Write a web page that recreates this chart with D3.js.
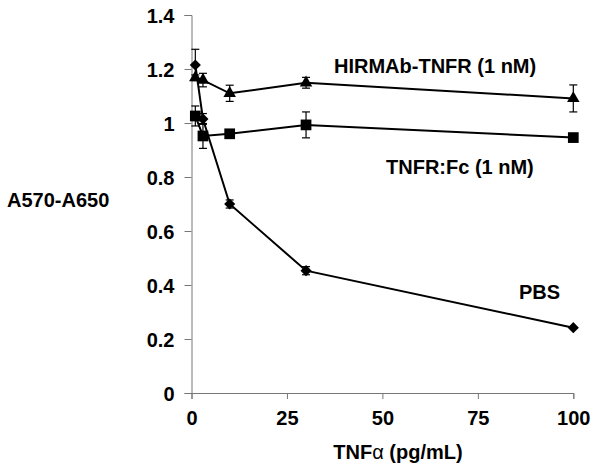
<!DOCTYPE html>
<html>
<head>
<meta charset="utf-8">
<script src="https://cdn.jsdelivr.net/npm/d3@7"></script>
<style>
  body { margin: 0; background: #fff; }
  text { font-family: "Liberation Sans", Arial, sans-serif; font-weight: bold; fill: #000; }
</style>
</head>
<body>
<div class="chart"></div>
<script>
// data
var doses = [1, 3, 10, 30, 100];
var hirmabVals = [1.168, 1.159, 1.11, 1.149, 1.091];
var hirmabErr = [0.01, 0.025, 0.03, 0.02, 0.05];
var tnfrFcVals = [1.026, 0.952, 0.96, 0.993, 0.946];
var tnfrFcErr = [0.037, 0.046, 0.01, 0.048, 0];
var pbsVals = [1.215, 1.015, 0.70, 0.453, 0.242];
var pbsErr = [0.058, 0.02, 0.015, 0.015, 0];
var xTicks = [0, 25, 50, 75, 100];
var yTicks = [0, 0.2, 0.4, 0.6, 0.8, 1, 1.2, 1.4];

var svgWidth = 600;
var svgHeight = 476;
var margin = { top: 15, right: 27, bottom: 83, left: 191.5 };
var width = svgWidth - margin.left - margin.right;
var height = svgHeight - margin.top - margin.bottom;

var svg = d3.select(".chart")
  .append("svg")
  .attr("width", svgWidth)
  .attr("height", svgHeight);

var chart = svg.append("g")
  .attr("transform", "translate(" + margin.left + "," + margin.top + ")");

var x = d3.scaleLinear().domain([0, 100]).range([0, 381.8]);
var y = d3.scaleLinear().domain([0, 1.4]).range([height, 0]);

// axes
var bottomAxis = d3.axisBottom(x).tickValues(xTicks).tickSize(6).tickPadding(12).tickFormat(d3.format("d"));
var leftAxis = d3.axisLeft(y).tickValues(yTicks).tickSize(7).tickPadding(10).tickFormat(function(d) { return d3.format("~g")(d); });

var gx = chart.append("g")
  .attr("transform", "translate(0," + height + ")")
  .call(bottomAxis);
var gy = chart.append("g").call(leftAxis);

[gx, gy].forEach(function(g) {
  g.select(".domain").attr("stroke", "#777").attr("stroke-width", 1);
  g.selectAll(".tick line").attr("stroke", "#777").attr("stroke-width", 1);
  g.selectAll(".tick text")
    .attr("fill", "#000")
    .style("font-size", "20px")
    .style("font-family", "'Liberation Sans', Arial, sans-serif")
    .style("font-weight", "bold");
});
gy.selectAll(".tick text").attr("dy", "0.36em");
gx.selectAll(".tick text").attr("dy", "0.71em");

// diamond = square turned 45 degrees
var series = [
  { vals: hirmabVals, err: hirmabErr, symbol: d3.symbolTriangle, size: 68, rot: 0 },
  { vals: tnfrFcVals, err: tnfrFcErr, symbol: d3.symbolSquare, size: 115, rot: 0 },
  { vals: pbsVals, err: pbsErr, symbol: d3.symbolSquare, size: 62, rot: 45 }
];

var line = d3.line()
  .x(function(d) { return x(d.dose); })
  .y(function(d) { return y(d.val); });

series.forEach(function(s) {
  var pts = doses.map(function(d, i) { return { dose: d, val: s.vals[i], err: s.err[i] }; });

  // error bars
  var eb = chart.append("g").attr("stroke", "#000").attr("stroke-width", 1.2);
  pts.filter(function(p) { return p.err > 0; }).forEach(function(p) {
    var cx = x(p.dose);
    eb.append("line").attr("x1", cx).attr("x2", cx).attr("y1", y(p.val + p.err)).attr("y2", y(p.val - p.err));
    eb.append("line").attr("x1", cx - 4).attr("x2", cx + 4).attr("y1", y(p.val + p.err)).attr("y2", y(p.val + p.err));
    eb.append("line").attr("x1", cx - 4).attr("x2", cx + 4).attr("y1", y(p.val - p.err)).attr("y2", y(p.val - p.err));
  });

  chart.append("path")
    .datum(pts)
    .attr("fill", "none")
    .attr("stroke", "#000")
    .attr("stroke-width", 2)
    .attr("d", line);

  chart.selectAll(null)
    .data(pts)
    .enter()
    .append("path")
    .attr("transform", function(p) { return "translate(" + x(p.dose) + "," + y(p.val) + ") rotate(" + s.rot + ")"; })
    .attr("d", d3.symbol().type(s.symbol).size(s.size))
    .attr("fill", "#000");
});

// series labels
svg.append("text").attr("x", 334).attr("y", 72.5).style("font-size", "20px").text("HIRMAb-TNFR (1 nM)");
svg.append("text").attr("x", 386).attr("y", 174).style("font-size", "20px").text("TNFR:Fc (1 nM)");
svg.append("text").attr("x", 519).attr("y", 299).style("font-size", "20px").text("PBS");

// axis titles
svg.append("text").attr("x", 7).attr("y", 206.5).style("font-size", "20px").text("A570-A650");
var xt = svg.append("text").attr("x", 398).attr("y", 459).attr("text-anchor", "middle").style("font-size", "20px");
xt.append("tspan").text("TNF");
xt.append("tspan").style("font-weight", "normal").text("α");
xt.append("tspan").text(" (pg/mL)");
</script>
</body>
</html>
